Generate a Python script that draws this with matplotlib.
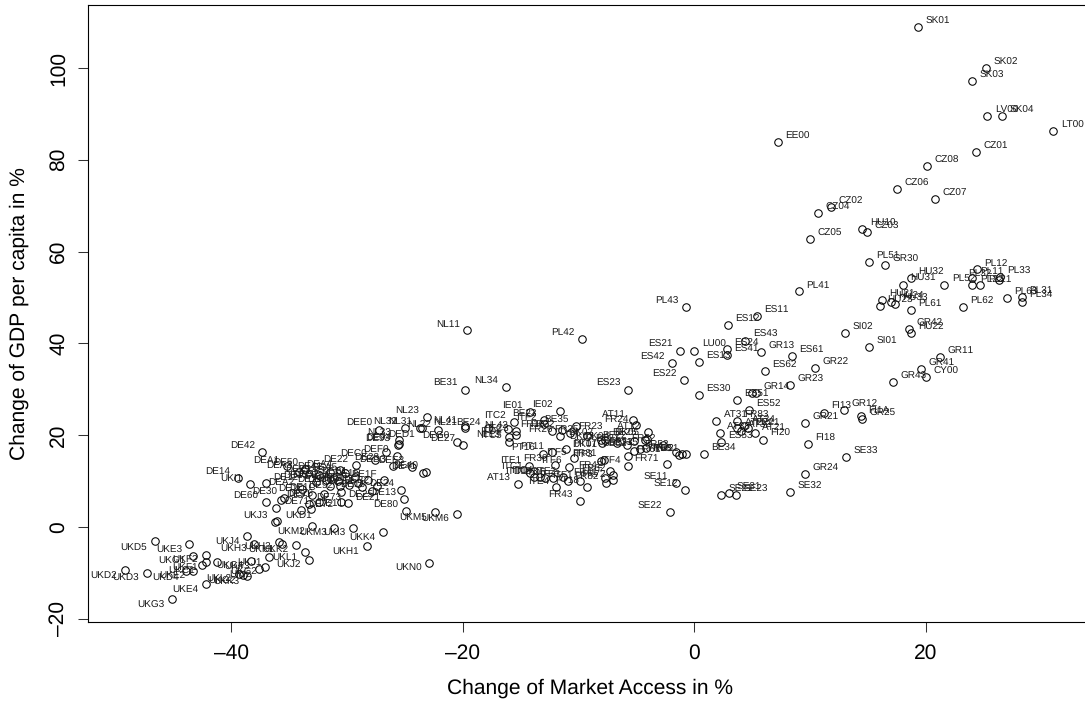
#!/usr/bin/env python
import matplotlib
matplotlib.use('Agg')
import matplotlib.pyplot as plt

plt.rcParams['font.family'] = ['Liberation Sans', 'DejaVu Sans']
plt.rcParams['text.hinting'] = 'no_hinting'
plt.rcParams['text.hinting_factor'] = 1

# regions by group: change of market access, change of GDP per capita
uk_names = ['UKD5','UKD2','UKD3','UKE3','UKD4','UKG1','UKF2','UKE2','UKF3','UKF1','UKE4','UKG3','UKC1','UKJ1','UKH2','UKJ4','UKH3','UKI2',
            'UKK3','UKG2','UKL2','UKJ3','UKD1','UKL1','UKJ2','UKK2','UKK1','UKH1','UKK4','UKM3','UKM2','UKI3','UKN0','UKM5','UKM6','UKI1','UKC2','UKG4']
uk_ma = [-46.6,-49.2,-47.3,-43.6,-43.9,-43.3,-42.2,-43.3,-41.2,-42.2,-42.2,-45.1,-42.5,-36.7,-35.9,-38.6,-38.0,-37.6,
         -38.6,-39.0,-39.3,-36.2,-36.0,-33.6,-33.3,-34.4,-35.6,-28.3,-26.9,-31.1,-33.0,-29.5,-22.9,-22.4,-20.5,-38.4,-37.1,-38.3]
uk_gdp = [-3.1,-9.5,-10.0,-3.8,-9.7,-6.3,-6.1,-9.6,-7.6,-7.6,-12.4,-15.8,-8.4,-6.5,-3.3,-1.9,-3.7,-9.2,
          -10.8,-10.6,-10.2,1.0,1.3,-5.4,-7.2,-3.9,-3.7,-4.1,-1.1,-0.2,0.1,-0.2,-7.8,3.3,2.8,9.3,-8.7,-7.4]

de_names = ['DE42','DEA1','DE50','DE14','DE12','DE30','DE60','DE71','DE91','DE73','DE11','DE26','DE22','DEC0','DE23','DEE0','DE93','DE94','DEF0',
            'DE41','DE40','DED3','DEE3','DED1','DE13','DE21','DE24','DEB2','DE80','DEG0','DE27','DE72','DE92','DE25','DEA2','DEA3','DEA4','DEA5',
            'DEB1','DEB3','DED2','DE13a','DE41a','DEE1','DEE2','DE16','DE17','DE18','DE19','DE1A','DE1B','DE1C','DE1D','DE1E','DE1F']
de_ma = [-37.3,-35.2,-33.6,-39.4,-37.0,-35.4,-37.0,-36.1,-32.4,-33.3,-33.1,-35.7,-29.2,-27.6,-26.6,-27.2,-25.6,-25.5,-25.7,
         -23.4,-23.2,-26.0,-24.4,-23.5,-25.1,-29.9,-25.3,-27.4,-24.9,-20.5,-20.0,-34.0,-30.5,-30.5,-33.9,-34.1,-30.6,-30.2,
         -29.3,-31.1,-31.8,-32.7,-31.5,-32.4,-28.7,-27.8,-29.8,-30.6,-31.5,-30.8,-29.0,-32.0,-33.0,-28.2,-26.8]
de_gdp = [16.4,13.3,12.6,10.7,9.6,6.3,5.4,4.2,5.5,4.9,3.9,5.9,13.5,14.6,16.2,21.2,17.9,18.1,15.5,
          11.8,12.0,13.3,13.1,21.5,6.1,5.2,8.1,8.8,3.5,18.4,17.9,3.7,7.5,5.5,8.3,12.0,12.4,11.7,
          10.8,10.7,10.2,9.8,12.0,11.3,8.7,7.7,9.2,8.9,8.9,10.0,9.6,7.2,7.0,10.3,10.2]

west_names = ['NL11','NL34','BE31','NL23','NL32','NL22','NL21','NL41','NL31','BE24','NL42','NL13','NL33','ITC2','ITC3','BE23','ITF2','BE35','IE01','IE02',
              'PT16','PT11','PT17','ITE1','ITD1','AT13','ITC1','ITC4','ITD3','ITD5','ITE2','ITE3','ITE4','ITF1','ITF3','ITF4','ITF5','ITF6',
              'FR10','FR22','FR23','FR25','FR26','FR24','FR30','FR41','FR42','FR43','FR51','FR52','FR53','FR61','FR62','FR63','FR71','FR72','FR81','FR82',
              'DK01','DK02','DK03','DK04','DK05','AT11','AT12','BE21','BE22','BE25','BE32','BE33','PT15','PT18','ITD2','ITD4','ITC5']
west_ma = [-19.6,-16.3,-19.8,-23.1,-25.0,-22.1,-19.8,-19.8,-23.7,-17.8,-15.4,-16.1,-25.5,-15.6,-15.4,-13.0,-13.0,-10.2,-14.2,-11.6,
           -13.1,-12.3,-11.1,-14.3,-13.8,-15.2,-14.2,-13.3,-12.9,-12.2,-11.3,-10.9,-11.9,-9.9,-8.1,-5.7,-10.4,-10.8,
           -12.3,-11.4,-10.7,-9.3,-11.6,-5.0,-12.0,-7.7,-7.3,-9.9,-0.7,-2.7,-1.6,-5.7,-7.0,-1.3,-2.4,-7.0,-7.8,-7.6,
           -7.7,-8.1,-8.0,-6.7,-4.1,-5.3,-4.0,-5.8,-5.2,-4.3,-5.2,-4.7,-4.2,-9.3,-1.1,-16.0,-16.0]
west_gdp = [42.9,30.5,29.9,24.0,21.5,21.1,21.5,22.0,21.5,21.5,20.8,21.3,19.0,22.9,20.0,23.2,22.5,21.9,25.1,25.3,
            15.9,16.3,16.9,13.2,10.8,9.4,11.7,10.9,10.6,10.6,10.8,9.9,8.6,9.9,14.4,13.2,15.0,13.1,
            20.8,21.1,20.4,19.7,19.7,22.1,13.5,10.6,12.2,5.7,15.8,17.9,16.4,15.4,11.3,15.7,13.7,10.1,14.5,9.5,
            19.0,19.0,18.3,18.2,19.2,23.2,20.6,17.9,18.6,19.0,16.6,16.9,17.1,8.6,15.8,19.5,18.5]

south_names = ['ES11','ES12','ES43','ES24','ES41','LU00','ES13','ES21','ES42','ES22','ES30','ES23','ES51','','ES52','ES53','ES61','ES62',
               'GR13','GR22','GR23','GR14','GR21','GR12','GR25','GR24','GR42','GR11','GR41','GR43','GR30','CY00',
               'FI13','FI1A','FI18','FI20','SE33','SE32','SE21','SE31','SE23','SE11','SE12','SE22',
               'BE34','AT31','FR83','AT21','AT22','AT34','AT32','AT33','FR21','SI01','SI02']
south_ma = [5.4,2.9,4.4,2.8,2.8,0.0,0.4,-1.2,-1.9,-0.9,0.4,-5.7,3.7,5.0,4.7,2.3,8.4,6.1,
            5.8,10.4,8.3,5.3,9.6,12.9,14.5,9.6,18.5,21.2,19.6,17.2,16.5,20.0,
            11.2,14.4,9.8,5.9,13.1,8.3,2.3,3.0,3.6,-1.6,-0.8,-2.1,
            0.8,1.9,3.7,5.2,3.7,4.3,4.0,2.2,4.6,15.1,13.0]
south_gdp = [46.0,43.9,40.6,38.7,37.5,38.4,35.9,38.4,35.7,32.0,28.8,29.9,27.6,29.1,25.4,18.4,37.2,34.0,
             38.0,34.6,30.9,29.1,22.7,25.4,23.5,11.5,43.1,37.0,34.4,31.6,57.1,32.6,
             24.9,24.2,18.0,19.0,15.2,7.5,6.9,7.3,6.9,9.6,8.0,3.3,
             15.8,23.1,23.1,20.4,21.5,21.9,20.8,20.4,21.5,39.2,42.2]

east_names = ['SK01','SK02','SK03','LV00','SK04','LT00','EE00','CZ01','CZ08','CZ06','CZ07','CZ02','CZ04','CZ05','CZ03','HU10',
              'PL41','PL43','PL42','PL51','HU32','HU31','PL52','PL12','PL11','PL22','PL21','PL33','PL32','PL62','PL61','PL63','PL31','PL34',
              'HU21','HU23','HU24','HU33','HU22']
east_ma = [19.3,25.2,24.0,25.3,26.6,31.0,7.2,24.3,20.1,17.5,20.8,11.8,10.7,10.0,14.9,14.5,
           9.0,-0.7,-9.7,15.1,18.7,18.0,21.6,24.4,24.0,24.0,24.7,26.4,26.3,23.2,18.7,27.0,28.3,28.3,
           16.2,16.0,17.0,17.3,18.7]
east_gdp = [109.0,100.0,97.2,89.6,89.6,86.3,83.9,81.7,78.7,73.7,71.5,69.7,68.4,62.8,64.3,64.9,
            51.4,47.9,41.0,57.8,54.3,52.8,52.6,56.2,54.3,52.7,52.6,54.5,53.8,47.9,47.3,49.9,50.0,49.1,
            49.4,48.1,49.0,48.5,42.3]

# where a label sits round its point, anything not listed goes up and right
up_left = ['DE42','DEA1','DE50','DE14','DE30','DE60','DE91','DE22','DEC0','DEE0','DE93','DE94','DEF0','DE41','DE40','DED3','DEE3','DE13','DE24','DEB2','DE80','DEG0','DE27',
           'DE92','DEA2','DEA3','DEA4','DEA5','DEB1','DEB3','DED2','DE13a','DE41a','DEE1','DEE2','DE16','DE17','DE18','DE19','DE1A','DE1B','DE1C','DE1D','DE1E','DE1F',
           'UKJ3','UKI1','NL11','NL34','BE31','NL23','NL32','NL22','NL21','NL41','NL31','BE24','NL42','NL33','ITC2','ITC3','BE23','ITF2','BE35','IE01','IE02',
           'PT16','PT11','ITE1','ITD1','AT13','ITC1','ITC4','ITD3','ITD5','ITE2','ITE3','ITE4','ITF1','ITF3','ITF4','ITF5','ITF6',
           'FR10','FR22','FR25','FR26','FR24','FR30','FR41','FR42','FR43','FR51','FR52','FR53','FR62','FR63','FR71','FR72','FR81','FR82',
           'DK02','DK03','DK04','DK05','AT11','AT12','BE21','BE22','BE25','BE32','BE33','PT15','PT18','ITD2','ITD4','ITC5',
           'SE11','SE12','SE22','ES21','ES42','ES22','ES23','PL43','PL42','PL32']
down_left = ['UKD5','UKD2','UKD3','UKE3','UKD4','UKG1','UKF2','UKE2','UKF1','UKE4','UKG3','UKC1','UKJ1','UKH2','UKJ4','UKH3','UKI2','UKK3','UKG2','UKL2',
             'UKL1','UKJ2','UKK2','UKK1','UKH1','UKK4','UKM3','UKM2','UKI3','UKN0','UKM5','UKM6','UKG4','UKC2','DED1','DE23','NL13','DK01']
down_right = ['UKF3']

name_list = uk_names + de_names + west_names + south_names + east_names
ma_list = uk_ma + de_ma + west_ma + south_ma + east_ma
gdp_list = uk_gdp + de_gdp + west_gdp + south_gdp + east_gdp

fig = plt.figure(figsize=(10.85, 7.01), dpi=100)
ax = fig.add_axes([88.3 / 1085, 79 / 701, 998 / 1085, 617.5 / 701])

ax.plot(ma_list, gdp_list, linestyle='none', marker='o', markersize=5.4, markerfacecolor='none',
        markeredgecolor='black', markeredgewidth=0.75, clip_on=False)

for name, ma, gdp in zip(name_list, ma_list, gdp_list):
  if name in up_left:
    off, ha = (-5.4, 4.2), 'right'
  elif name in down_left:
    off, ha = (-5.4, -4.2), 'right'
  elif name in down_right:
    off, ha = (5.4, -4.2), 'left'
  else:
    off, ha = (5.4, 4.2), 'left'
  ax.annotate(name.rstrip('a'), (ma, gdp), xytext=off, textcoords='offset points', ha=ha, va='center',
              fontsize=7.5, color='#1a1a1a', annotation_clip=False)

ax.set_xlim(-52.33, 33.85)
ax.set_ylim(-20.75, 113.85)
ax.set_xticks([-40, -20, 0, 20])
ax.set_yticks([-20, 0, 20, 40, 60, 80, 100])
ax.set_xticklabels(['\u201340', '\u201320', '0', '20'])
ax.set_yticklabels(['\u201320', '0', '20', '40', '60', '80', '100'], rotation=90, va='center')
ax.tick_params(axis='both', length=7.2, width=0.75, labelsize=15.3, color='#333333')
ax.tick_params(axis='x', pad=8)
ax.tick_params(axis='y', pad=7)
for side in ax.spines.values():
  side.set_linewidth(0.8)

ax.set_xlabel('Change of Market Access in %', fontsize=15.3, va='center')
ax.set_ylabel('Change of GDP per capita in %', fontsize=15.3, va='center')
ax.xaxis.set_label_coords((590 - 88.3) / 998, -(688 - 622) / 617.5)
ax.yaxis.set_label_coords(-(88.3 - 19) / 998, (622 - 313.5) / 617.5)

plt.savefig('out.png', dpi=100)
